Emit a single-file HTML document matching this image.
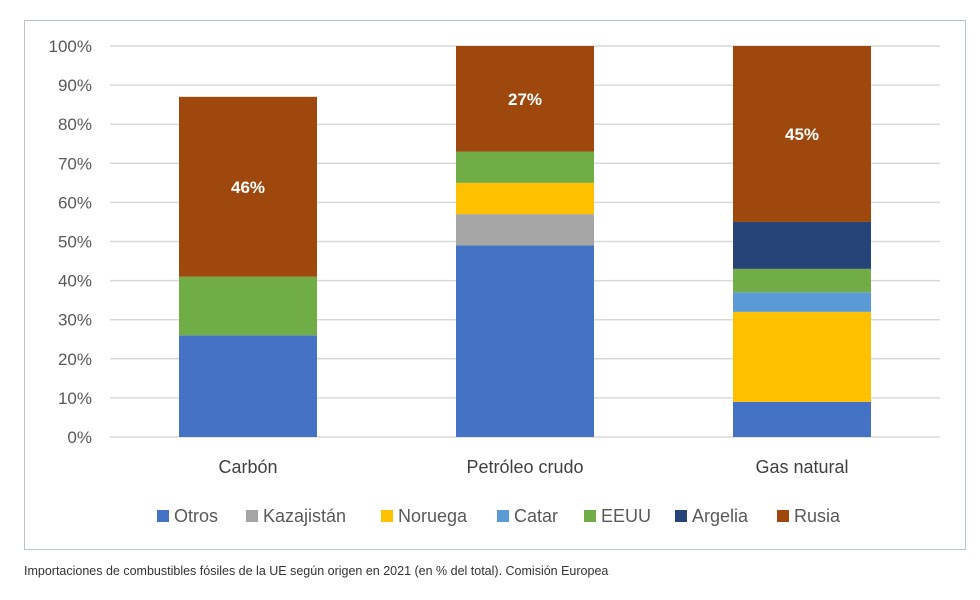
<!DOCTYPE html>
<html><head><meta charset="utf-8"><style>
body{margin:0;background:#fff;width:980px;height:595px;overflow:hidden;font-family:"Liberation Sans",sans-serif}
</style></head><body>
<svg width="980" height="595">
<rect x="24.5" y="20.5" width="941" height="529" fill="#fff" stroke="#b7c4d0"/>
<g id="grid"></g><g id="bars"></g><g id="legend"></g>
<text x="24" y="575" font-size="12.5" fill="#333">Importaciones de combustibles fósiles de la UE según origen en 2021 (en % del total). Comisión Europea</text>
</svg>
<script>
const categories=["Carbón","Petróleo crudo","Gas natural"];
const seriesNames=["Otros","Kazajistán","Noruega","Catar","EEUU","Argelia","Rusia"];
const colors=["#4472c4","#a5a5a5","#ffc000","#5b9bd5","#70ad47","#264478","#9e480e"];
const otros=[26,49,9];
const kazajistan=[0,8,0];
const noruega=[0,8,23];
const catar=[0,0,5];
const eeuu=[15,8,6];
const argelia=[0,0,12];
const rusia=[46,27,45];
const rusiaLabels=["46%","27%","45%"];
const ticks=[0,10,20,30,40,50,60,70,80,90,100];
const series=[otros,kazajistan,noruega,catar,eeuu,argelia,rusia];
const NS="http://www.w3.org/2000/svg";
const y=v=>437-v*3.91;
const cx=i=>248+i*277;
const bw=138;
function mk(t,a,p){const e=document.createElementNS(NS,t);for(const k in a)e.setAttribute(k,a[k]);p.appendChild(e);return e;}
const grid=document.getElementById('grid');
ticks.forEach(t=>{
 const l=mk('line',{x1:110,x2:940,y1:y(t),y2:y(t),stroke:'#d9d9d9','stroke-width':1.5},grid);
 
 
 const tx=mk('text',{x:92,y:y(t)+6,'text-anchor':'end','font-size':17,fill:'#595959'},grid);
 tx.textContent=t+'%';
 
 
});
const bars=document.getElementById('bars');
categories.forEach((c,i)=>{
 let acc=0;
 series.forEach((s,j)=>{
  const v=s[i]; if(!v){return;}
  const r=mk('rect',{x:cx(i)-bw/2,y:y(acc+v),width:bw,height:y(acc)-y(acc+v),fill:colors[j]},bars);
  
  
  if(j===6){
   const t=mk('text',{x:cx(i),y:y(acc+v/2)+6,'text-anchor':'middle','font-size':17,'font-weight':'bold',fill:'#fff'},bars);
   t.textContent=rusiaLabels[i];
   
   
  }
  acc+=v;
 });
 const t=mk('text',{x:cx(i),y:473,'text-anchor':'middle','font-size':18,fill:'#404040'},bars);
 t.textContent=c;
 
 
});
const lg=document.getElementById('legend');
const lx=[157,246,381,497,584,675,777];
seriesNames.forEach((n,j)=>{
 const r=mk('rect',{x:lx[j],y:510,width:12,height:12,fill:colors[j]},lg);
 
 
 const t=mk('text',{x:lx[j]+17,y:522,'font-size':18,fill:'#595959'},lg);
 t.textContent=n;
 
 
});
</script>
</body></html>
